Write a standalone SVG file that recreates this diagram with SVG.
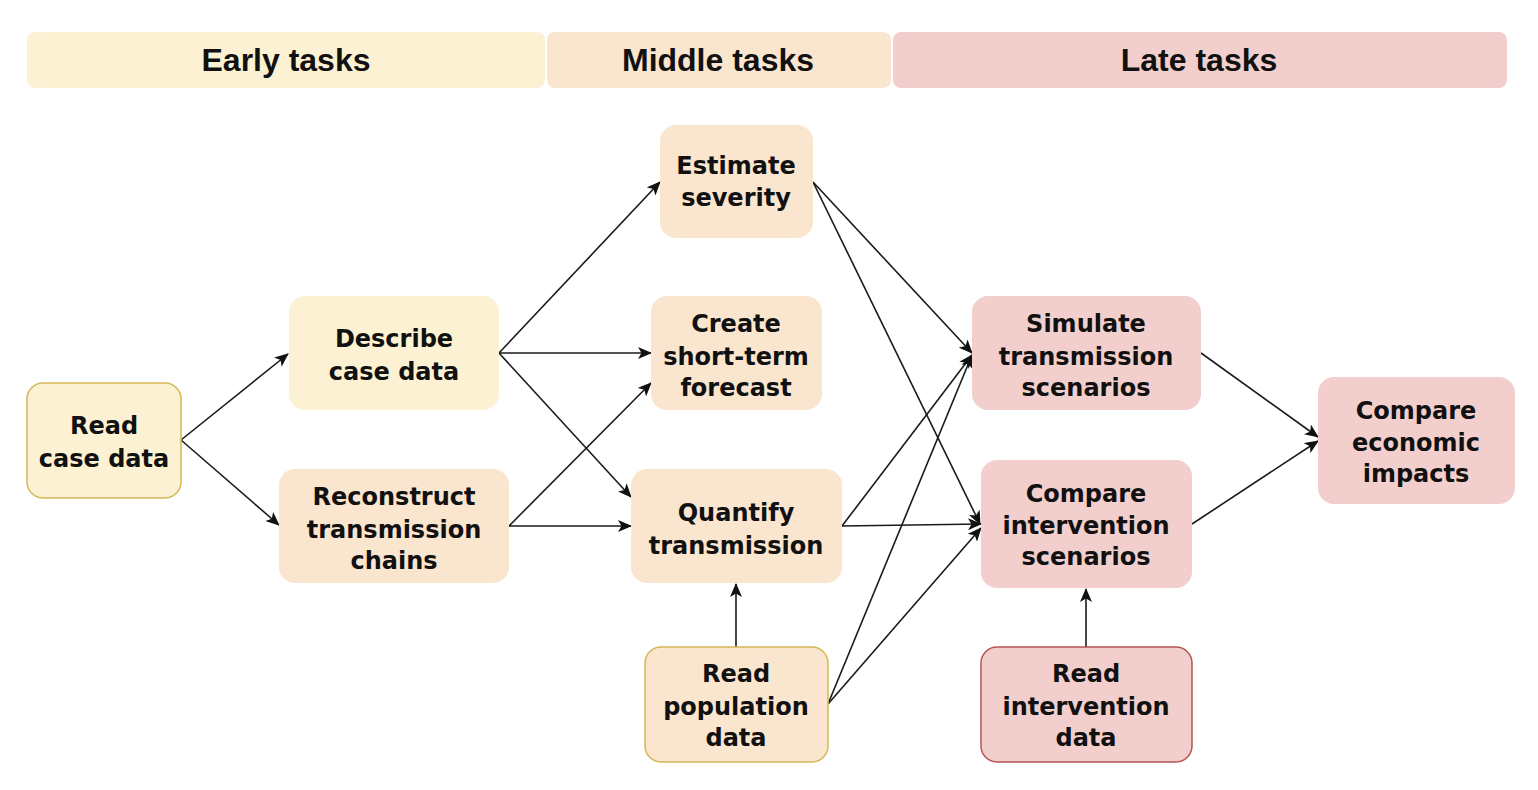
<svg xmlns="http://www.w3.org/2000/svg" width="1538" height="790" viewBox="0 0 1538 790">
<style>
.hdr{font-family:"Liberation Sans",Arial,sans-serif;font-weight:bold;font-size:32px;fill:#111;text-anchor:middle}
.t{font-family:"DejaVu Sans",Verdana,sans-serif;font-weight:bold;font-size:24px;fill:#111;text-anchor:middle}
.e{fill:#FCF2D3}
.m{fill:#FAE5CF}
.l{fill:#F2CFCD}
.by{stroke:#D6B656;stroke-width:1.5}
.br{stroke:#B85450;stroke-width:1.5}
.c path{fill:none;stroke:#1a1a1a;stroke-width:1.6;marker-end:url(#ah)}
</style>
<defs>
<marker id="ah" viewBox="0 0 14 12" refX="13" refY="6" markerWidth="14" markerHeight="12" markerUnits="userSpaceOnUse" orient="auto">
<path d="M0,0 L14,6 L0,12 L3.5,6 z" fill="#111"/>
</marker>
</defs>
<rect width="1538" height="790" fill="#fff"/>
<g id="headers">
<rect x="27" y="32" width="518" height="56" rx="8" class="e"/>
<rect x="547" y="32" width="344" height="56" rx="8" class="m"/>
<rect x="893" y="32" width="614" height="56" rx="8" class="l"/>
<text class="hdr" x="286" y="71">Early tasks</text>
<text class="hdr" x="718" y="71">Middle tasks</text>
<text class="hdr" x="1199" y="71">Late tasks</text>
</g>
<g id="connectors" class="c">
<path d="M181,440 L288,354"/>
<path d="M181,440 L279,525"/>
<path d="M499,353 L660,182"/>
<path d="M499,353 L651,353"/>
<path d="M499,353 L631,497"/>
<path d="M509,526 L651,383"/>
<path d="M509,526 L631,526"/>
<path d="M813,182 L972,353"/>
<path d="M813,182 L980,524"/>
<path d="M842,526 L972,355"/>
<path d="M842,526 L981,524"/>
<path d="M828,704 L972,355"/>
<path d="M828,704 L981,528"/>
<path d="M736,647 L736,584"/>
<path d="M1086,647 L1086,589"/>
<path d="M1201,353 L1318,437"/>
<path d="M1192,524 L1318,441"/>
</g>
<g id="read-case-data"><rect x="27" y="383" width="154" height="115" rx="16" class="e by"/><text class="t" x="104" y="434">Read</text><text class="t" x="104" y="467">case data</text></g>
<g id="describe-case-data"><rect x="289" y="296" width="210" height="114" rx="16" class="e"/><text class="t" x="394" y="347">Describe</text><text class="t" x="394" y="380">case data</text></g>
<g id="reconstruct"><rect x="279" y="469" width="230" height="114" rx="16" class="m"/><text class="t" x="394" y="505">Reconstruct</text><text class="t" x="394" y="538">transmission</text><text class="t" x="394" y="569">chains</text></g>
<g id="estimate-severity"><rect x="660" y="125" width="153" height="113" rx="16" class="m"/><text class="t" x="736" y="174">Estimate</text><text class="t" x="736" y="206">severity</text></g>
<g id="create-forecast"><rect x="651" y="296" width="171" height="114" rx="16" class="m"/><text class="t" x="736" y="332">Create</text><text class="t" x="736" y="365">short-term</text><text class="t" x="736" y="396">forecast</text></g>
<g id="quantify-transmission"><rect x="631" y="469" width="211" height="114" rx="16" class="m"/><text class="t" x="736" y="521">Quantify</text><text class="t" x="736" y="554">transmission</text></g>
<g id="read-population-data"><rect x="645" y="647" width="183" height="115" rx="16" class="m by"/><text class="t" x="736" y="682">Read</text><text class="t" x="736" y="715">population</text><text class="t" x="736" y="746">data</text></g>
<g id="simulate-scenarios"><rect x="972" y="296" width="229" height="114" rx="16" class="l"/><text class="t" x="1086" y="332">Simulate</text><text class="t" x="1086" y="365">transmission</text><text class="t" x="1086" y="396">scenarios</text></g>
<g id="compare-intervention"><rect x="981" y="460" width="211" height="128" rx="16" class="l"/><text class="t" x="1086" y="502">Compare</text><text class="t" x="1086" y="534">intervention</text><text class="t" x="1086" y="565">scenarios</text></g>
<g id="read-intervention-data"><rect x="981" y="647" width="211" height="115" rx="16" class="l br"/><text class="t" x="1086" y="682">Read</text><text class="t" x="1086" y="715">intervention</text><text class="t" x="1086" y="746">data</text></g>
<g id="compare-economic"><rect x="1318" y="377" width="197" height="127" rx="16" class="l"/><text class="t" x="1416" y="419">Compare</text><text class="t" x="1416" y="451">economic</text><text class="t" x="1416" y="482">impacts</text></g>
</svg>
